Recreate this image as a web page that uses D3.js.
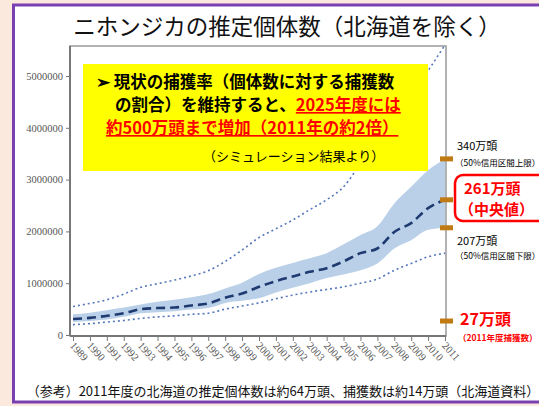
<!DOCTYPE html>
<html>
<head>
<meta charset="utf-8">
<style>
  body { margin: 0; background: #fff; }
  text { font-family: "Noto Sans CJK JP", sans-serif; }
  .tick-y text, .tick-x text { font-family: "Liberation Serif", serif; fill: #555; }
</style>
</head>
<body>
<svg id="svg" width="539" height="406"></svg>
<script src="https://d3js.org/d3.v7.min.js"></script>
<script>
// years of the estimate
const years = [1989,1990,1991,1992,1993,1994,1995,1996,1997,1998,1999,2000,2001,2002,2003,2004,2005,2006,2007,2008,2009,2010,2011]
// median estimate
const median = [310000,330000,370000,420000,500000,520000,530000,570000,610000,720000,800000,930000,1040000,1130000,1220000,1290000,1420000,1580000,1670000,1990000,2160000,2450000,2610000]
// 50% credible interval
const ci50Upper = [400000,430000,480000,530000,590000,640000,680000,730000,790000,900000,1010000,1180000,1300000,1390000,1480000,1580000,1750000,1930000,2100000,2540000,2860000,3180000,3400000]
const ci50Lower = [250000,270000,300000,350000,420000,440000,460000,490000,520000,620000,660000,710000,820000,910000,1000000,1100000,1170000,1250000,1380000,1670000,1830000,2030000,2070000]
// outer (dotted) interval
const outerUpper = [550000,610000,680000,790000,920000,990000,1060000,1140000,1240000,1420000,1640000,1880000,2050000,2220000,2420000,2610000,2860000,3300000,3700000,4200000,4600000,5100000,5600000]
const outerLower = [200000,220000,250000,280000,320000,350000,370000,400000,420000,500000,560000,620000,700000,770000,830000,880000,930000,1000000,1080000,1250000,1380000,1510000,1580000]
const yTicks = [0,1000000,2000000,3000000,4000000,5000000]
// labels at the right edge
const markers = [
  { value: 3400000, label: '340万頭', note: '（50%信用区間上限）' },
  { value: 2610000, label: '261万頭', note: '（中央値）' },
  { value: 2070000, label: '207万頭', note: '（50%信用区間下限）' },
  { value: 270000, label: '27万頭', note: '（2011年度捕獲数）' }
]

const svg = d3.select('#svg')

// page frame
svg.append('rect').attr('width', 539).attr('height', 406).attr('fill', '#fbe9dd')
svg.append('rect').attr('x', 13.5).attr('y', 5).attr('width', 600).attr('height', 397)
  .attr('fill', '#fff').attr('stroke', '#7a3fb0').attr('stroke-width', 3)

// title
svg.append('text').attr('x', 287).attr('y', 35).attr('text-anchor', 'middle')
  .style('font-size', '22.5px').style('fill', '#111')
  .text('ニホンジカの推定個体数（北海道を除く）')

const x = d3.scaleLinear().domain([1989, 2011]).range([73, 445])
const y = d3.scaleLinear().domain([0, 5000000]).range([335, 76])

const pLeft = 70, pRight = 446, pTop = 46, pBottom = 336

svg.append('defs').append('clipPath').attr('id', 'plot')
  .append('rect').attr('x', pLeft).attr('y', pTop).attr('width', pRight - pLeft).attr('height', pBottom - pTop)

// plot box
svg.append('rect').attr('x', pLeft).attr('y', pTop).attr('width', pRight - pLeft).attr('height', pBottom - pTop)
  .attr('fill', 'none').attr('stroke', '#999').attr('stroke-width', 1.5)

const g = svg.append('g').attr('clip-path', 'url(#plot)')

const area = d3.area().curve(d3.curveMonotoneX)
  .x((d, i) => x(years[i])).y0((d, i) => y(ci50Lower[i])).y1(d => y(d))
g.append('path').datum(ci50Upper).attr('d', area).attr('fill', '#b9d0e8')

const line = d3.line().curve(d3.curveMonotoneX).x((d, i) => x(years[i])).y(d => y(d))
;[outerUpper, outerLower].forEach(s => {
  g.append('path').datum(s).attr('d', line).attr('fill', 'none')
    .attr('stroke', '#5577bb').attr('stroke-width', 1.6).attr('stroke-dasharray', '2,3')
})
g.append('path').datum(median).attr('d', line).attr('fill', 'none')
  .attr('stroke', '#1f3a70').attr('stroke-width', 2.6).attr('stroke-dasharray', '9,5')

// axes
const yAxis = svg.append('g').attr('class', 'tick-y').attr('transform', `translate(${pLeft},0)`)
  .call(d3.axisLeft(y).tickValues(yTicks).tickSize(4).tickPadding(3).tickFormat(d3.format('d')))
yAxis.selectAll('text').style('font-size', '10.5px')
yAxis.select('.domain').attr('d', `M0,${pTop}V${pBottom}`).attr('stroke', '#777').attr('stroke-width', 2)
yAxis.selectAll('line').attr('stroke', '#777')

const xAxis = svg.append('g').attr('class', 'tick-x').attr('transform', `translate(0,${pBottom})`)
  .call(d3.axisBottom(x).tickValues(years).tickSize(5).tickFormat(d3.format('d')))
xAxis.select('.domain').attr('d', `M${pLeft},0H${pRight}`).attr('stroke', '#777').attr('stroke-width', 2)
xAxis.selectAll('line').attr('stroke', '#777')
xAxis.selectAll('text').attr('y', 0).attr('dy', 0)
  .attr('transform', 'translate(-4,10) rotate(48)')
  .style('text-anchor', 'start').style('font-size', '10.5px')

// callout box
svg.append('rect').attr('x', 83).attr('y', 64).attr('width', 345).attr('height', 107).attr('fill', '#ffff00')
const callout = svg.append('g').style('font-size', '16.5px').style('font-weight', 'bold')
callout.append('text').attr('x', 96).attr('y', 88).style('fill', '#000')
  .text('➢ 現状の捕獲率（個体数に対する捕獲数')
const l2 = callout.append('text').attr('x', 115).attr('y', 111).style('fill', '#000')
l2.append('tspan').text('の割合）を維持すると、')
l2.append('tspan').style('fill', '#f00').style('text-decoration', 'underline').text('2025年度には')
callout.append('text').attr('x', 106).attr('y', 134).style('fill', '#f00')
  .style('text-decoration', 'underline').text('約500万頭まで増加（2011年の約2倍）')
svg.append('text').attr('x', 203).attr('y', 161).style('font-size', '13px').style('fill', '#000')
  .text('（シミュレーション結果より）')

// right side markers
svg.selectAll('.marker').data(markers).enter().append('rect').attr('class', 'marker')
  .attr('x', 440).attr('y', d => y(d.value) - 2.5).attr('width', 13).attr('height', 5).attr('fill', '#c07a14')

const m = markers
svg.append('text').attr('x', 457).attr('y', 150).style('font-size', '11px').text(m[0].label)
svg.append('text').attr('x', 455).attr('y', 166).style('font-size', '8.5px').text(m[0].note)
svg.append('rect').attr('x', 455).attr('y', 175).attr('width', 100).attr('height', 46).attr('rx', 8)
  .attr('fill', '#fff').attr('stroke', '#f00').attr('stroke-width', 2.5)
svg.append('text').attr('x', 464).attr('y', 194).style('font-size', '15px').style('font-weight', 'bold')
  .style('fill', '#f00').text(m[1].label)
svg.append('text').attr('x', 459).attr('y', 215).style('font-size', '15px').style('font-weight', 'bold')
  .style('fill', '#f00').text(m[1].note)
svg.append('text').attr('x', 457).attr('y', 245).style('font-size', '11px').text(m[2].label)
svg.append('text').attr('x', 455).attr('y', 259).style('font-size', '8.5px').text(m[2].note)
svg.append('text').attr('x', 460).attr('y', 325).style('font-size', '16px').style('font-weight', 'bold')
  .style('fill', '#f00').text(m[3].label)
svg.append('text').attr('x', 458).attr('y', 341).style('font-size', '8.5px').style('font-weight', 'bold')
  .style('fill', '#f00').text(m[3].note)

// footnote
svg.append('text').attr('x', 283).attr('y', 396).attr('text-anchor', 'middle')
  .style('font-size', '13px').style('fill', '#111')
  .text('（参考）2011年度の北海道の推定個体数は約64万頭、捕獲数は約14万頭（北海道資料）')
</script>
</body>
</html>
